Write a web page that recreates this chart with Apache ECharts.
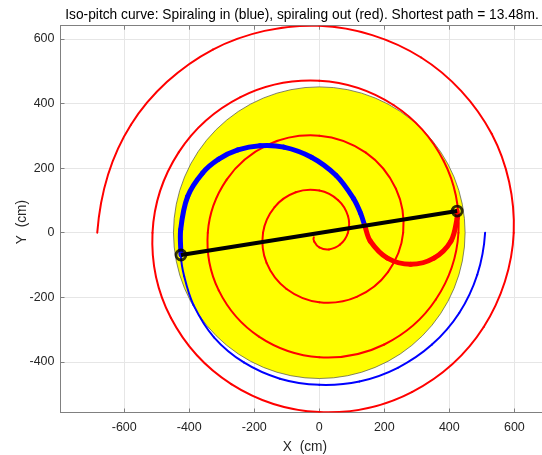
<!DOCTYPE html>
<html><head><meta charset="utf-8">
<script src="https://cdn.jsdelivr.net/npm/echarts@6/dist/echarts.min.js"></script>
<style>html,body{margin:0;padding:0;background:#fff}#c{width:542px;height:455px}</style>
</head><body><div id="c"></div>
<script>
const titleText = 'Iso-pitch curve: Spiraling in (blue), spiraling out (red). Shortest path = 13.48m.';
const xName = 'X  (cm)';
const yName = 'Y  (cm)';
const xTicks = [-600, -400, -200, 0, 200, 400, 600];
const yTicks = [-400, -200, 0, 200, 400, 600];
const xRange = [-796, 685];
const yRange = [-556.7, 640.9];
const yellowCircle = [[0, 0, 450]];
const redSpiral = [
  [-16.8,-14.1],[-15.7,-27.1],[0,-45.5],[29.8,-51.7],[63.9,-36.9],[88,0],[88.5,51.1],[58.2,100.7],
  [0,130.5],[-72.3,125.3],[-137.5,79.4],[-173,0],[-162.1,-93.6],[-100.7,-174.4],[0,-215.5],
  [114.8,-198.9],[211.2,-121.9],[258,0],[235.7,136.1],[143.2,248],[0,300.5],[-157.4,272.5],
  [-284.8,164.4],[-343,0],[-309.3,-178.6],[-185.7,-321.6],[0,-385.5],[199.8,-346.1],[358.4,-206.9],
  [428,0],[383,221.1],[228.2,395.3],[0,470.5],[-242.4,419.8],[-432.1,249.4],[-513,0],
  [-456.6,-263.6],[-270.7,-468.9],[0,-555.5],[284.8,-493.4],[505.7,-291.9],[598,0],[530.2,306.1],
  [313.2,542.5],[0,640.5],[-327.3,567],[-579.3,334.4],[-683,0]
];
const blueThin = [
  [510,0],[485.9,-130.2],[430.4,-248.5],[346.5,-346.5],[241.5,-418.3],[123.4,-460.7],[0,-471],
  [-121.1,-452],[-232,-401.8],[-323.9,-323.9],[-387.1,-223.5],[-415.6,-135],[-425.5,-69]
];
const blueThick = [
  [-425.5,-69],[-426.3,9.8],[-404.9,112.1],[-359.2,184.7],[-309.3,227.6],[-250.5,256.1],
  [-182.3,269.3],[-109.2,264.9],[-24.2,233.6],[51.2,177.6],[105.3,105.8],[127.1,59.9],[140,21]
];
const redThick = [
  [140,21],[157.2,-26.5],[209.5,-78.8],[281,-98],[352.5,-78.8],[404.8,-26.5],[424,45],[424,67]
];
const shortestPath = [[-425.5,-69],[424,67]];
const endpoints = [[-425.5,-69],[424,67]];

const FONT = "'Liberation Sans', Arial, sans-serif";
const chart = echarts.init(document.getElementById('c'), null, {renderer: 'canvas'});
const axisLineStyle = {color: '#808080', width: 1};

function curveSeries(points, color, width, parabolicEnds) {
  return {
    type: 'custom', data: points, encode: {x: 0, y: 1}, clip: true, silent: true,
    renderItem: function (params, api) {
      if (params.dataIndex !== 0) return null;
      const p = points.map(function (q) { return api.coord(q); });
      const n = p.length;
      let pre, post;
      if (parabolicEnds) {
        pre = [3 * p[0][0] - 3 * p[1][0] + p[2][0], 3 * p[0][1] - 3 * p[1][1] + p[2][1]];
        post = [3 * p[n-1][0] - 3 * p[n-2][0] + p[n-3][0], 3 * p[n-1][1] - 3 * p[n-2][1] + p[n-3][1]];
      } else {
        pre = [2 * p[0][0] - p[1][0], 2 * p[0][1] - p[1][1]];
        post = [2 * p[n-1][0] - p[n-2][0], 2 * p[n-1][1] - p[n-2][1]];
      }
      const P = [pre].concat(p, [post]);
      const s = 0.344;
      const fwd = [], back = [];
      for (let i = 1; i <= n; i++) {
        const vx = P[i+1][0] - P[i-1][0], vy = P[i+1][1] - P[i-1][1];
        const d0 = Math.hypot(P[i][0] - P[i-1][0], P[i][1] - P[i-1][1]);
        const d1 = Math.hypot(P[i+1][0] - P[i][0], P[i+1][1] - P[i][1]);
        const sum = (d0 + d1) || 1;
        back.push([P[i][0] - vx * s * d0 / sum, P[i][1] - vy * s * d0 / sum]);
        fwd.push([P[i][0] + vx * s * d1 / sum, P[i][1] + vy * s * d1 / sum]);
      }
      const children = [];
      for (let j = 0; j < n - 1; j++) {
        children.push({type: 'bezierCurve',
          shape: {x1: p[j][0], y1: p[j][1], x2: p[j+1][0], y2: p[j+1][1],
                  cpx1: fwd[j][0], cpy1: fwd[j][1], cpx2: back[j+1][0], cpy2: back[j+1][1]},
          style: {stroke: color, lineWidth: width, fill: null, lineCap: 'round'}});
      }
      return {type: 'group', children: children};
    }
  };
}
chart.setOption({
  animation: false,
  backgroundColor: '#fff',
  grid: {left: 60.5, top: 25.7, right: 0, bottom: 42.5, containLabel: false},
  xAxis: [{
    type: 'value', min: xRange[0], max: xRange[1], position: 'bottom',
    axisLine: {show: true, onZero: false, lineStyle: axisLineStyle},
    axisTick: {show: true, inside: true, length: 4, customValues: xTicks, lineStyle: axisLineStyle},
    axisLabel: {customValues: xTicks, color: '#262626', fontSize: 12.5, fontFamily: FONT, margin: 9},
    splitLine: {show: true, lineStyle: {color: '#e6e6e6', width: 1}}
  }, {
    type: 'value', min: xRange[0], max: xRange[1], position: 'top',
    axisLine: {show: true, onZero: false, lineStyle: axisLineStyle},
    axisTick: {show: true, inside: true, length: 4, customValues: xTicks, lineStyle: axisLineStyle},
    axisLabel: {show: false}, splitLine: {show: false}
  }],
  yAxis: [{
    type: 'value', min: yRange[0], max: yRange[1], position: 'left',
    axisLine: {show: true, onZero: false, lineStyle: axisLineStyle},
    axisTick: {show: true, inside: true, length: 4, customValues: yTicks, lineStyle: axisLineStyle},
    axisLabel: {customValues: yTicks, color: '#262626', fontSize: 12.5, fontFamily: FONT, margin: 6},
    splitLine: {show: true, lineStyle: {color: '#e6e6e6', width: 1}}
  }],
  graphic: [
    {type: 'text', x: 302, y: 15.5, silent: true,
     style: {text: titleText, font: '13.75px ' + FONT, fill: '#000', align: 'center', verticalAlign: 'middle'}},
    {type: 'text', x: 305, y: 447, silent: true,
     style: {text: xName, font: '13.75px ' + FONT, fill: '#262626', align: 'center', verticalAlign: 'middle'}},
    {type: 'text', x: 22, y: 222, rotation: Math.PI / 2, silent: true,
     style: {text: yName, font: '13.75px ' + FONT, fill: '#262626', align: 'center', verticalAlign: 'middle'}}
  ],
  series: [
    {type: 'custom', data: yellowCircle, encode: {x: 0, y: 1}, silent: true,
     renderItem: function (params, api) {
       const c = api.coord([api.value(0), api.value(1)]);
       const s = api.size([api.value(2), api.value(2)]);
       return {type: 'circle', shape: {cx: c[0], cy: c[1], r: (s[0] + s[1]) / 2},
         style: {fill: '#ffff00', stroke: '#4d4d4d', lineWidth: 0.7}};
     }},
    curveSeries(redSpiral, '#ff0000', 2, true),
    curveSeries(blueThin, '#0000ff', 2, true),
    curveSeries(blueThick, '#0000ff', 5, false),
    curveSeries(redThick, '#ff0000', 5, false),
    {type: 'line', data: shortestPath, showSymbol: false, lineStyle: {color: '#000', width: 4}, silent: true},
    {type: 'scatter', data: endpoints, symbol: 'circle', symbolSize: 10, silent: true,
     itemStyle: {color: 'rgba(0,0,0,0)', borderColor: '#000', borderWidth: 2.8}}
  ]
});
</script>
</body></html>
